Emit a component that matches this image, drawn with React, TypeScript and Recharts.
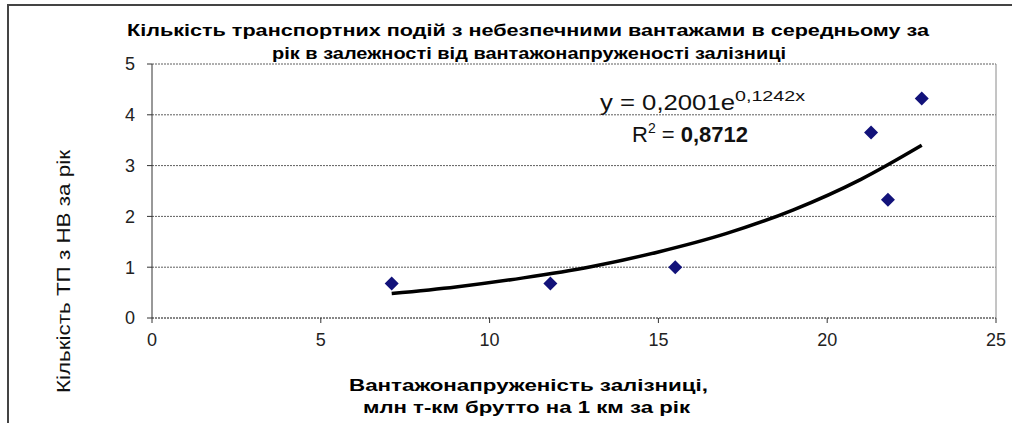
import {
  ScatterChart,
  Scatter,
  XAxis,
  YAxis,
  CartesianGrid,
  ReferenceLine,
} from "recharts";

// observed points: freight density vs. accidents with dangerous goods per year
const densityX = [7.1, 11.8, 15.5, 21.3, 21.8, 22.8];
const eventsY = [0.68, 0.68, 1.0, 3.65, 2.33, 4.32];

// trend curve
const trendX = [7.1, 9, 11, 13, 15, 17, 19, 21, 22.8];
const trendY = [0.48, 0.61, 0.79, 1.01, 1.3, 1.66, 2.13, 2.73, 3.4];

const xTicks = [0, 5, 10, 15, 20, 25];
const yTicks = [0, 1, 2, 3, 4, 5];

const titleLines = [
  "Кількість транспортних  подій з небезпечними вантажами в середньому за",
  "рік в залежності від вантажонапруженості  залізниці",
];
const xLabelLines = [
  "Вантажонапруженість залізниці,",
  "млн т-км брутто на 1 км за рік",
];
const yLabel = "Кількість ТП з НВ за рік";

const points = densityX.map((x, i) => ({ x, y: eventsY[i] }));
const trend = trendX.map((x, i) => ({ x, y: trendY[i] }));

const font = "'Liberation Sans', Arial, sans-serif";

const Diamond = (props: any) => {
  const { cx, cy } = props;
  const r = 7;
  return (
    <polygon
      points={`${cx},${cy - r} ${cx + r},${cy} ${cx},${cy + r} ${cx - r},${cy}`}
      fill="#12127a"
    />
  );
};

export default function App() {
  return (
    <div
      style={{
        position: "absolute",
        left: 0,
        top: 0,
        width: 1012,
        height: 423,
        background: "#fff",
        fontFamily: font,
      }}
    >
      <ScatterChart
        width={1012}
        height={423}
        margin={{ top: 64, right: 16, bottom: 75, left: 0 }}
      >
        <CartesianGrid
          vertical={false}
          stroke="#5e5e5e"
          strokeDasharray="2 1"
        />
        <XAxis
          type="number"
          dataKey="x"
          domain={[0, 25]}
          ticks={xTicks}
          height={30}
          tickSize={5}
          tickMargin={10}
          axisLine={{ stroke: "#5e5e5e", strokeDasharray: "2 1" }}
          tickLine={{ stroke: "#333" }}
          tick={{ fill: "#222", fontSize: 18, fontFamily: font }}
        />
        <YAxis
          type="number"
          dataKey="y"
          domain={[0, 5]}
          ticks={yTicks}
          width={152}
          tickSize={5}
          tickMargin={12}
          axisLine={{ stroke: "#333" }}
          tickLine={{ stroke: "#333" }}
          tick={{ fill: "#222", fontSize: 18, fontFamily: font }}
        />
        <ReferenceLine x={25} stroke="#8a8a8a" />
        <Scatter
          data={trend}
          line={{ stroke: "#000", strokeWidth: 3.5 }}
          lineJointType="monotoneX"
          shape={() => null}
          isAnimationActive={false}
        />
        <Scatter data={points} shape={Diamond} isAnimationActive={false} />
      </ScatterChart>

      <svg
        width={1012}
        height={423}
        style={{ position: "absolute", left: 0, top: 0, pointerEvents: "none" }}
      >
        <line x1={7} y1={5} x2={1012} y2={5} stroke="#444" strokeWidth={2} />
        <line x1={8} y1={5} x2={8} y2={423} stroke="#444" strokeWidth={2} />

        <text
          x={127}
          y={36}
          fontSize={17}
          fontWeight="bold"
          fontFamily={font}
          textLength={802}
          lengthAdjust="spacingAndGlyphs"
        >
          {titleLines[0]}
        </text>
        <text
          x={272}
          y={59}
          fontSize={17}
          fontWeight="bold"
          fontFamily={font}
          textLength={514}
          lengthAdjust="spacingAndGlyphs"
        >
          {titleLines[1]}
        </text>

        <text
          x={349}
          y={391}
          fontSize={17}
          fontWeight="bold"
          fontFamily={font}
          textLength={359}
          lengthAdjust="spacingAndGlyphs"
        >
          {xLabelLines[0]}
        </text>
        <text
          x={363}
          y={413}
          fontSize={17}
          fontWeight="bold"
          fontFamily={font}
          textLength={327}
          lengthAdjust="spacingAndGlyphs"
        >
          {xLabelLines[1]}
        </text>

        <text
          transform="translate(70, 393) rotate(-90)"
          x={0}
          y={0}
          fontSize={19}
          fontFamily={font}
          fill="#111"
          textLength={243}
          lengthAdjust="spacingAndGlyphs"
        >
          {yLabel}
        </text>

        <text x={600} y={110} fontSize={22} fontFamily={font} fill="#111">
          <tspan textLength={135} lengthAdjust="spacingAndGlyphs">
            y = 0,2001e
          </tspan>
          <tspan fontSize={14} dy={-9} textLength={70} lengthAdjust="spacingAndGlyphs">
            0,1242x
          </tspan>
        </text>
        <text x={632} y={142} fontSize={22} fontFamily={font} fill="#111">
          R
          <tspan fontSize={14} dy={-9}>
            2
          </tspan>
          <tspan dy={9}> = </tspan>
          <tspan fontWeight="bold">0,8712</tspan>
        </text>
      </svg>
    </div>
  );
}
